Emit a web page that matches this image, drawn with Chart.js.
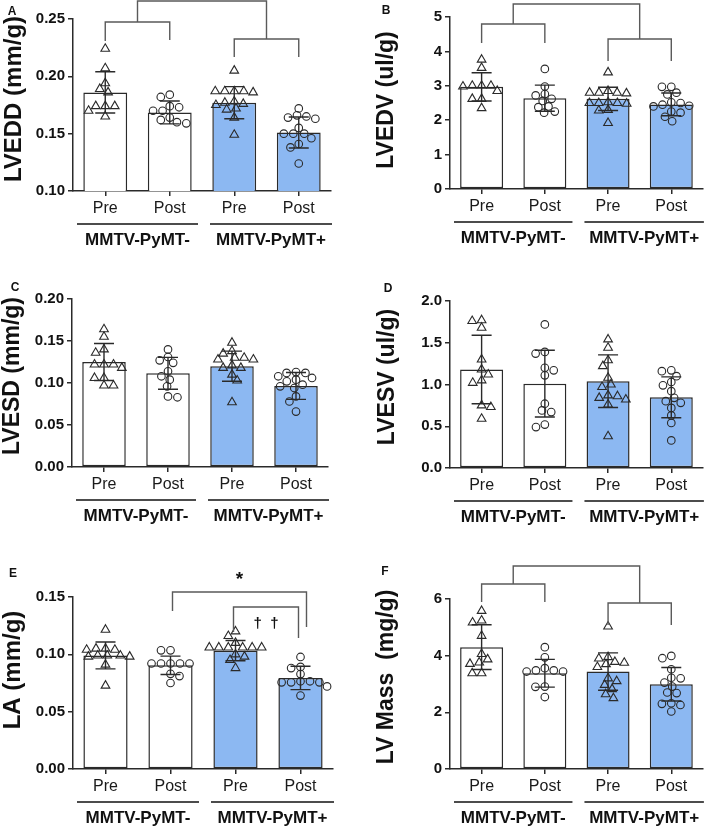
<!DOCTYPE html>
<html>
<head>
<meta charset="utf-8">
<script src="https://cdn.jsdelivr.net/npm/chart.js@4.4.0/dist/chart.umd.min.js"></script>
<style>
  body { margin: 0; background: #fff; width: 709px; height: 829px; position: relative; overflow: hidden; }
  canvas { position: absolute; }
</style>
</head>
<body>
<canvas id="cA" width="354" height="270" style="left:0px;top:0px"></canvas>
<canvas id="cB" width="355" height="270" style="left:354px;top:0px"></canvas>
<canvas id="cC" width="354" height="270" style="left:0px;top:270px"></canvas>
<canvas id="cD" width="355" height="270" style="left:354px;top:270px"></canvas>
<canvas id="cE" width="354" height="279" style="left:0px;top:550px"></canvas>
<canvas id="cF" width="355" height="279" style="left:354px;top:550px"></canvas>
<script>
const FONT = '"Liberation Sans", Arial, Helvetica, sans-serif';

// categories
const groupLabels = ["Pre", "Post", "Pre", "Post"];
const strainLabels = ["MMTV-PyMT-", "MMTV-PyMT+"];

// A - LVEDD (mm/g)
const lveddTicks = [0.10, 0.15, 0.20, 0.25];
const lveddMean = [0.186, 0.1685, 0.177, 0.151];
const lveddSd = [0.018, 0.010, 0.014, 0.0135];
const lveddPoints = [
  [0.224, 0.207, 0.194, 0.189, 0.186, 0.174, 0.174, 0.174, 0.170, 0.165],
  [0.184, 0.182, 0.174, 0.173, 0.170, 0.170, 0.164, 0.162, 0.160, 0.159],
  [0.205, 0.187, 0.187, 0.187, 0.187, 0.186, 0.178, 0.177, 0.176, 0.175, 0.172, 0.171, 0.164, 0.149],
  [0.172, 0.166, 0.165, 0.164, 0.163, 0.155, 0.150, 0.150, 0.150, 0.146, 0.141, 0.138, 0.124],
];

// B - LVEDV (ul/g)
const lvedvTicks = [0, 1, 2, 3, 4, 5];
const lvedvMean = [2.97, 2.64, 2.62, 2.46];
const lvedvSd = [0.41, 0.38, 0.34, 0.33];
const lvedvPoints = [
  [3.76, 3.52, 3.00, 3.00, 3.00, 2.98, 2.85, 2.62, 2.62, 2.35],
  [3.49, 2.98, 2.76, 2.72, 2.62, 2.56, 2.40, 2.38, 2.25, 2.22],
  [3.39, 2.85, 2.80, 2.80, 2.80, 2.78, 2.52, 2.50, 2.50, 2.50, 2.48, 2.30, 2.28, 1.92],
  [2.97, 2.97, 2.80, 2.75, 2.52, 2.50, 2.45, 2.42, 2.40, 2.25, 2.22, 2.10, 1.97],
];

// C - LVESD (mm/g)
const lvesdTicks = [0.00, 0.05, 0.10, 0.15, 0.20];
const lvesdMean = [0.125, 0.1115, 0.120, 0.0965];
const lvesdSd = [0.022, 0.019, 0.018, 0.016];
const lvesdPoints = [
  [0.164, 0.155, 0.140, 0.136, 0.122, 0.122, 0.122, 0.118, 0.106, 0.106, 0.097, 0.097],
  [0.140, 0.131, 0.127, 0.124, 0.114, 0.108, 0.104, 0.096, 0.084, 0.083],
  [0.148, 0.138, 0.135, 0.130, 0.130, 0.128, 0.128, 0.121, 0.118, 0.118, 0.110, 0.103, 0.077],
  [0.113, 0.112, 0.112, 0.108, 0.106, 0.104, 0.102, 0.098, 0.096, 0.094, 0.084, 0.078, 0.066],
];

// D - LVESV (ul/g)
const lvesvTicks = [0.0, 0.5, 1.0, 1.5, 2.0];
const lvesvMean = [1.18, 1.01, 1.04, 0.846];
const lvesvSd = [0.41, 0.40, 0.315, 0.245];
const lvesvPoints = [
  [1.77, 1.76, 1.68, 1.30, 1.18, 1.12, 1.05, 1.02, 0.75, 0.73, 0.59],
  [1.72, 1.39, 1.37, 1.20, 1.17, 1.11, 0.77, 0.69, 0.67, 0.52, 0.49],
  [1.54, 1.44, 1.29, 1.22, 1.08, 1.00, 0.97, 0.87, 0.86, 0.84, 0.82, 0.76, 0.38],
  [1.17, 1.16, 1.10, 1.03, 0.99, 0.92, 0.84, 0.80, 0.78, 0.72, 0.63, 0.54, 0.33],
];

// E - LA (mm/g)
const laTicks = [0.00, 0.05, 0.10, 0.15];
const laMean = [0.099, 0.0904, 0.1032, 0.0794];
const laSd = [0.0117, 0.008, 0.0088, 0.0102];
const laPoints = [
  [0.1215, 0.105, 0.105, 0.104, 0.104, 0.099, 0.099, 0.099, 0.098, 0.098, 0.091, 0.0727],
  [0.1035, 0.1035, 0.092, 0.092, 0.092, 0.092, 0.092, 0.083, 0.081, 0.075],
  [0.120, 0.116, 0.110, 0.106, 0.106, 0.106, 0.106, 0.106, 0.106, 0.100, 0.098, 0.095, 0.088],
  [0.0977, 0.089, 0.088, 0.0828, 0.0765, 0.0765, 0.0756, 0.0756, 0.0756, 0.072, 0.064],
];

// F - LV Mass (mg/g)
const lvMassTicks = [0, 2, 4, 6];
const lvMassMean = [4.30, 3.38, 3.44, 2.99];
const lvMassSd = [0.79, 0.49, 0.66, 0.59];
const lvMassPoints = [
  [5.58, 5.24, 5.17, 4.70, 4.06, 3.87, 3.76, 3.71, 3.38, 3.38],
  [4.30, 3.94, 3.56, 3.48, 3.48, 3.44, 3.44, 2.91, 2.90, 2.54],
  [5.03, 3.95, 3.90, 3.78, 3.75, 3.70, 3.60, 3.20, 3.10, 2.97, 2.82, 2.64, 2.50],
  [3.99, 3.91, 3.52, 3.22, 3.20, 3.05, 2.91, 2.70, 2.68, 2.32, 2.30, 2.26, 2.03],
];

const barColors = ["#ffffff", "#ffffff", "#8cb8f2", "#8cb8f2"];
const markerStyles = ["triangle", "circle", "triangle", "circle"];
const INK = "#2a2a2a";

// panel layout (local canvas pixels)
const panels = [
  { id: "cA", letter: "A", letterPos: [12, 12], title: "LVEDD (mm/g)", titlePos: [13, 99], titleSize: 24, decimals: 2,
    ticks: lveddTicks, mean: lveddMean, sd: lveddSd, points: lveddPoints,
    area: { l: 73, r: 331, t: 19, b: 191 },
    brackets: [
      { a: 0, b: 1, y: 3, ya: 22, yb: 21 },
      { a: 2, b: 3, y: 20, ya: 38, yb: 38 },
      { a: 0.5, b: 2.5, y: -18, ya: 3, yb: 20 },
    ], marks: [] },
  { id: "cB", letter: "B", letterPos: [32, 11], title: "LVEDV (ul/g)", titlePos: [32, 100], titleSize: 23, decimals: 0,
    ticks: lvedvTicks, mean: lvedvMean, sd: lvedvSd, points: lvedvPoints,
    area: { l: 96, r: 353, t: 17, b: 189 },
    brackets: [
      { a: 0, b: 1, y: 7, ya: 26, yb: 26 },
      { a: 2, b: 3, y: 22, ya: 44, yb: 44 },
      { a: 0.5, b: 2.5, y: -13, ya: 7, yb: 22 },
    ], marks: [] },
  { id: "cC", letter: "C", letterPos: [15, 18], title: "LVESD (mm/g)", titlePos: [12, 106], titleSize: 23, decimals: 2,
    ticks: lvesdTicks, mean: lvesdMean, sd: lvesdSd, points: lvesdPoints,
    area: { l: 72, r: 328, t: 29, b: 197 }, brackets: [], marks: [] },
  { id: "cD", letter: "D", letterPos: [34, 19], title: "LVESV (ul/g)", titlePos: [33, 107], titleSize: 23, decimals: 1,
    ticks: lvesvTicks, mean: lvesvMean, sd: lvesvSd, points: lvesvPoints,
    area: { l: 96, r: 349, t: 31, b: 198 }, brackets: [], marks: [] },
  { id: "cE", letter: "E", letterPos: [13, 24], title: "LA (mm/g)", titlePos: [12, 120], titleSize: 24, decimals: 2,
    ticks: laTicks, mean: laMean, sd: laSd, points: laPoints,
    area: { l: 73, r: 333, t: 47, b: 219 },
    brackets: [
      { a: 1, b: 3, da: 2, db: 6, y: -5, ya: 14, yb: 30 },
      { a: 2, b: 3, da: -2, db: -2, y: 10, ya: 35, yb: 41 },
    ],
    marks: [
      { text: "*", a: 1, b: 3, da: 2, db: 6, y: -12, size: 19 },
      { text: "\u2020  \u2020", a: 2, b: 3, da: -2, db: -2, y: 31, size: 15 },
    ] },
  { id: "cF", letter: "F", letterPos: [31, 22], title: "LV Mass  (mg/g)", titlePos: [32, 127], titleSize: 23, decimals: 0,
    ticks: lvMassTicks, mean: lvMassMean, sd: lvMassSd, points: lvMassPoints,
    area: { l: 96, r: 351, t: 49, b: 219 },
    brackets: [
      { a: 0, b: 1, y: -15, ya: 3, yb: 3 },
      { a: 2, b: 3, y: 4, ya: 26, yb: 26 },
      { a: 0.5, b: 2.5, y: -33, ya: -15, yb: 4 },
    ], marks: [] },
];

const panelById = {};
panels.forEach((p) => (panelById[p.id] = p));

// simple beeswarm: spread points that would overlap sideways
// (elliptical footprint so neighbouring rows can interleave)
function swarmOffsets(values, pxPerUnit, dX, dY) {
  const placed = [];
  let flip = 1;
  values.forEach((v) => {
    const y = v * pxPerUnit;
    const near = placed.filter((q) => Math.abs(q.y - y) < dY);
    const need = (q) => dX * Math.sqrt(1 - ((q.y - y) / dY) ** 2);
    const cands = [0];
    near.forEach((q) => cands.push(q.x - need(q), q.x + need(q)));
    const ok = cands.filter((c) => near.every((q) => Math.abs(c - q.x) >= need(q) - 0.01));
    ok.sort((a, b) => Math.abs(a) - Math.abs(b) || (a - b) * flip);
    const x = ok[0];
    if (Math.abs(x) > 0.01) flip = -flip;
    placed.push({ x, y });
  });
  return placed.map((q) => q.x);
}

const decorPlugin = {
  id: "decor",
  afterDatasetDraw(chart, args) {
    if (args.index !== 0) return;
    const p = panelById[chart.canvas.id];
    const x = chart.scales.x;
    const y = chart.scales.y;
    const ctx = chart.ctx;
    ctx.save();
    ctx.strokeStyle = INK;
    ctx.lineWidth = 1.4;
    p.mean.forEach((m, i) => {
      const cx = x.getPixelForValue(i);
      const yt = y.getPixelForValue(m + p.sd[i]);
      const yb = y.getPixelForValue(m - p.sd[i]);
      ctx.beginPath();
      ctx.moveTo(cx, yt);
      ctx.lineTo(cx, yb);
      ctx.moveTo(cx - 10, yt);
      ctx.lineTo(cx + 10, yt);
      ctx.moveTo(cx - 10, yb);
      ctx.lineTo(cx + 10, yb);
      ctx.stroke();
    });
    ctx.restore();
  },
  afterDraw(chart) {
    const p = panelById[chart.canvas.id];
    const xs = chart.scales.xs;
    const ca = chart.chartArea;
    const ctx = chart.ctx;
    ctx.save();

    // significance brackets
    ctx.strokeStyle = "#5a5a5a";
    ctx.lineWidth = 1.4;
    p.brackets.forEach((br) => {
      const xa = xs.getPixelForValue(br.a) + (br.da || 0);
      const xb = xs.getPixelForValue(br.b) + (br.db || 0);
      ctx.beginPath();
      ctx.moveTo(xa, ca.top + br.ya);
      ctx.lineTo(xa, ca.top + br.y);
      ctx.lineTo(xb, ca.top + br.y);
      ctx.lineTo(xb, ca.top + br.yb);
      ctx.stroke();
    });
    ctx.fillStyle = "#111";
    ctx.textAlign = "center";
    ctx.textBaseline = "alphabetic";
    p.marks.forEach((mk) => {
      const xa = xs.getPixelForValue(mk.a) + (mk.da || 0);
      const xb = xs.getPixelForValue(mk.b) + (mk.db || 0);
      ctx.font = `bold ${mk.size}px ${FONT}`;
      ctx.fillText(mk.text, (xa + xb) / 2, ca.top + mk.y);
    });

    // group underlines and labels
    const mid = xs.getPixelForValue(1.5);
    const spans = [
      [xs.getPixelForValue(-0.5) + 4, mid - 4],
      [mid + 8, xs.getPixelForValue(3.5) + 1],
    ];
    ctx.strokeStyle = "#111";
    ctx.lineWidth = 1.5;
    ctx.font = `bold 17px ${FONT}`;
    ctx.textBaseline = "middle";
    spans.forEach((s, k) => {
      ctx.beginPath();
      ctx.moveTo(s[0], ca.bottom + 33);
      ctx.lineTo(s[1], ca.bottom + 33);
      ctx.stroke();
      ctx.fillText(strainLabels[k], (s[0] + s[1]) / 2, ca.bottom + 49);
    });

    // y axis title
    ctx.save();
    ctx.translate(p.titlePos[0], p.titlePos[1]);
    ctx.rotate(-Math.PI / 2);
    ctx.font = `bold ${p.titleSize}px ${FONT}`;
    ctx.fillText(p.title, 0, 1);
    ctx.restore();

    // panel letter
    ctx.font = `bold 12px ${FONT}`;
    ctx.fillText(p.letter, p.letterPos[0], p.letterPos[1]);
    ctx.restore();
  },
};

panels.forEach((p) => {
  const canvas = document.getElementById(p.id);
  const W = canvas.width;
  const H = canvas.height;
  const a = p.area;
  const yMin = p.ticks[0];
  const yMax = p.ticks[p.ticks.length - 1];
  const step = p.ticks[1] - p.ticks[0];
  const pxPerUnit = (a.b - a.t) / (yMax - yMin);
  const pxPerCat = (a.r - a.l) / groupLabels.length;
  const xAxisH = 30;

  const scatterSets = p.points.map((vals, i) => {
    const offs = swarmOffsets(vals, pxPerUnit, 9.5, 7);
    return {
      type: "scatter",
      data: vals.map((v, k) => ({ x: i + offs[k] / pxPerCat, y: v })),
      xAxisID: "xs",
      yAxisID: "y",
      pointStyle: markerStyles[i],
      pointRadius: markerStyles[i] === "triangle" ? 5 : 3.8,
      borderColor: INK,
      backgroundColor: "rgba(0,0,0,0)",
      borderWidth: 1.1,
      order: 1,
      clip: false,
    };
  });

  new Chart(canvas, {
    type: "bar",
    plugins: [decorPlugin],
    data: {
      labels: groupLabels,
      datasets: [
        {
          type: "bar",
          data: p.mean,
          xAxisID: "x",
          yAxisID: "y",
          backgroundColor: barColors,
          borderColor: INK,
          borderWidth: 1.5,
          borderSkipped: false,
          grouped: false,
          barPercentage: 0.68,
          categoryPercentage: 1,
          order: 2,
        },
        ...scatterSets,
      ],
    },
    options: {
      responsive: false,
      animation: false,
      events: [],
      layout: { padding: { left: 0, top: a.t, right: W - a.r, bottom: H - a.b - xAxisH } },
      plugins: { legend: { display: false }, tooltip: { enabled: false } },
      scales: {
        x: {
          type: "category",
          offset: true,
          grid: { display: true, drawOnChartArea: false, offset: false, tickLength: 5, color: INK, lineWidth: 1.5 },
          border: { display: true, color: INK, width: 1.5 },
          ticks: { font: { family: FONT, size: 16 }, color: "#1a1a1a", padding: 3, maxRotation: 0, autoSkip: false },
          afterFit: (s) => { s.height = xAxisH; },
        },
        xs: { type: "linear", display: false, offset: false, min: -0.5, max: 3.5 },
        y: {
          type: "linear",
          min: yMin,
          max: yMax,
          grid: { display: true, drawOnChartArea: false, tickLength: 5, color: INK, lineWidth: 1.5 },
          border: { display: true, color: INK, width: 1.5 },
          ticks: {
            stepSize: step,
            font: { family: FONT, size: 15, weight: "bold" },
            color: "#111",
            padding: 3,
            callback: (v) => Number(v).toFixed(p.decimals),
          },
          title: { display: false },
          afterFit: (s) => { s.width = a.l; },
        },
      },
    },
  });
});
</script>
</body>
</html>
